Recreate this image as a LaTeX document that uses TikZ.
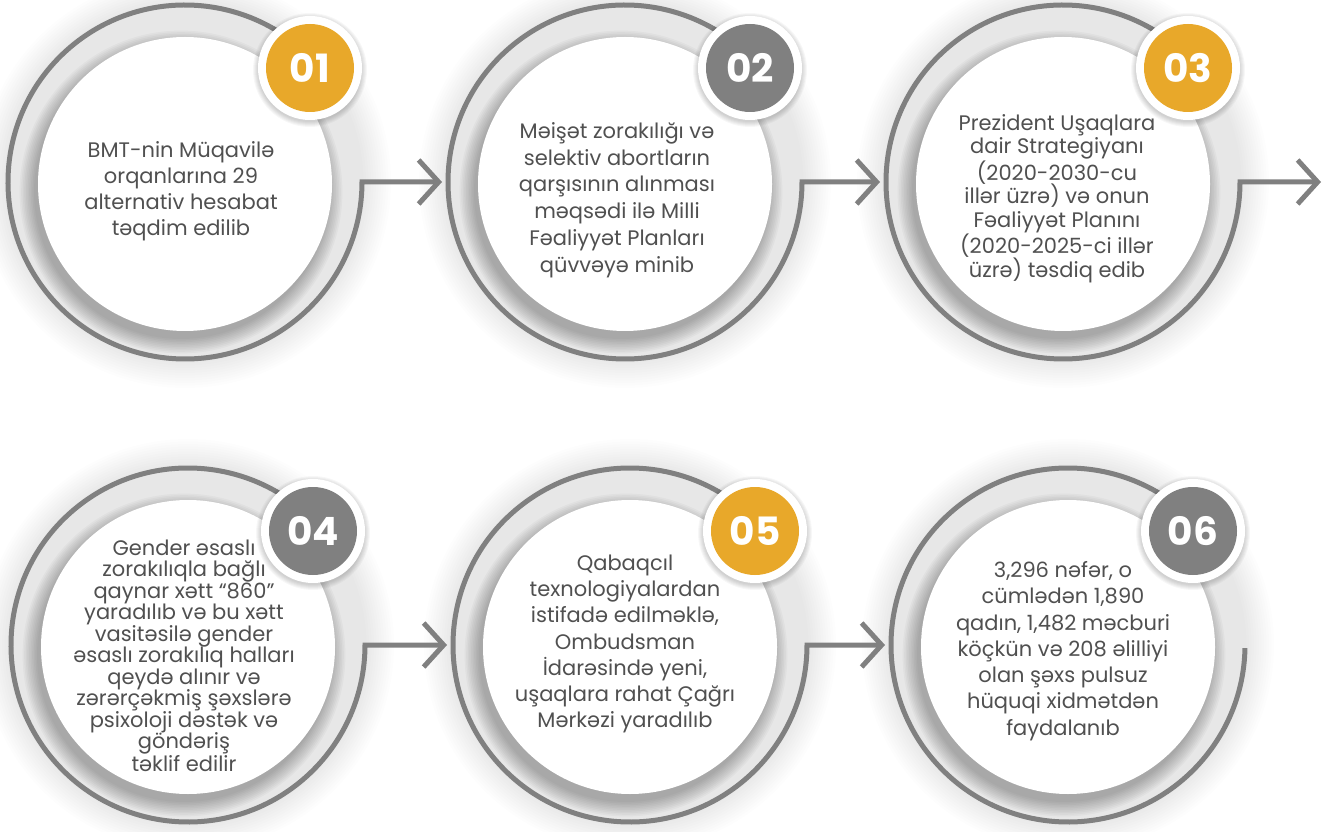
\documentclass[tikz,border=0pt]{standalone}
\usepackage{fontspec}
\setmainfont{Poppins}
\usetikzlibrary{arrows.meta}
\definecolor{ringgray}{HTML}{808080}
\definecolor{gold}{HTML}{E8A82A}
\definecolor{badgegray}{HTML}{808080}
\definecolor{txtgray}{HTML}{505050}
\tikzset{
  ringline/.style={draw=ringgray, line width=5pt},
  conn/.style={ringline, -{Straight Barb[length={20pt 0}, width={44pt 0}]}},
  ringnode/.style={circle, minimum size=354pt, inner sep=0pt, outer sep=0pt},
  disk/.style={circle, fill=white, minimum size=294pt, inner sep=0pt, outer sep=0pt},
  badgering/.style={circle, fill=white, minimum size=104pt, inner sep=0pt, outer sep=0pt},
  badge/.style={circle, minimum size=88pt, inner sep=0pt, outer sep=0pt, text=white,
    font=\fontsize{39}{39}\selectfont\bfseries},
  txt/.style={align=center, text=txtgray, inner sep=0pt},
}
\begin{document}
\begin{tikzpicture}[x=1pt,y=1pt]
\useasboundingbox (0,0) rectangle (1330,831);
% ring anchors
\node[ringnode] (r1) at (185,649) {};
\node[ringnode] (r2) at (625,649) {};
\node[ringnode] (r3) at (1063,649) {};
\node[ringnode] (r4) at (188,186) {};
\node[ringnode] (r5) at (630,186) {};
\node[ringnode] (r6) at (1068,186) {};
\coordinate (end3) at (1321,649);
% soft glow
\foreach \c in {r1,r2,r3,r4,r5,r6}{
  \foreach \k in {1,...,12}{
    \fill[black,opacity=0.008] (\c.center) circle[radius=176+2.5*\k];
  }
}
% rings and connectors
\draw[conn] (r1.40) arc[start angle=40, end angle=360, radius=177] -- ([xshift=-6pt]r2.west);
\draw[conn] (r2.40) arc[start angle=40, end angle=360, radius=177] -- ([xshift=-6pt]r3.west);
\draw[conn] (r3.40) arc[start angle=40, end angle=360, radius=177] -- (end3);
\draw[conn] (r4.40) arc[start angle=40, end angle=360, radius=177] -- ([xshift=-6pt]r5.west);
\draw[conn] (r5.40) arc[start angle=40, end angle=360, radius=177] -- ([xshift=-6pt]r6.west);
\draw[ringline] (r6.40) arc[start angle=40, end angle=359, radius=177];
% inner shadows
\foreach \c in {r1,r2,r3,r4,r5,r6}{
  \foreach \k in {0,...,9}{
    \fill[black,opacity=0.033] ([shift={(-4,-10)}]\c.center) circle[radius=147+1.6*\k];
  }
}
% inner disks
\node[disk] (d1) at ([yshift=-2pt]r1.center) {};
\node[disk] (d2) at ([yshift=-2pt]r2.center) {};
\node[disk] (d3) at ([yshift=-2pt]r3.center) {};
\node[disk] (d4) at ([yshift=-2pt]r4.center) {};
\node[disk] (d5) at ([yshift=-2pt]r5.center) {};
\node[disk] (d6) at ([yshift=-2pt]r6.center) {};
% texts
\node[txt, font=\fontsize{21}{26}\selectfont] (t1) at (181,640)
  {BMT-nin Müqavilə\\orqanlarına 29\\alternativ hesabat\\təqdim edilib};
\node[txt, font=\fontsize{21}{26.7}\selectfont] (t2) at (617,631)
  {Məişət zorakılığı və\\selektiv abortların\\qarşısının alınması\\məqsədi ilə Milli\\Fəaliyyət Planları\\qüvvəyə minib};
\node[txt, font=\fontsize{21}{23.8}\selectfont] (t3) at (1057,632.5)
  {Prezident Uşaqlara\\dair Strategiyanı\\(2020-2030-cu\\illər üzrə) və onun\\Fəaliyyət Planını\\(2020-2025-ci illər\\üzrə) təsdiq edib};
\node[txt, font=\fontsize{21}{21.5}\selectfont] (t4) at (184,175.5)
  {Gender əsaslı\\zorakılıqla bağlı\\qaynar xətt “860”\\yaradılıb və bu xətt\\vasitəsilə gender\\əsaslı zorakılıq halları\\qeydə alınır və\\zərərçəkmiş şəxslərə\\psixoloji dəstək və\\göndəriş\\təklif edilir};
\node[txt, font=\fontsize{21}{26.3}\selectfont] (t5) at (625,187)
  {Qabaqcıl\\texnologiyalardan\\istifadə edilməklə,\\Ombudsman\\İdarəsində yeni,\\uşaqlara rahat Çağrı\\Mərkəzi yaradılıb};
\node[txt, font=\fontsize{21}{26.3}\selectfont] (t6) at (1063,180)
  {3,296 nəfər, o\\cümlədən 1,890\\qadın, 1,482 məcburi\\köçkün və 208 əlilliyi\\olan şəxs pulsuz\\hüquqi xidmətdən\\faydalanıb};
% badges
\foreach \c in {r1,r2,r3,r4,r5,r6}{
  \foreach \k in {0,...,5}{
    \fill[black,opacity=0.03] ([shift={(125,112)}]\c.center) circle[radius=52+\k];
  }
}
\node[badgering] (bo1) at ([shift={(125,114)}]r1.center) {};
\node[badgering] (bo2) at ([shift={(125,114)}]r2.center) {};
\node[badgering] (bo3) at ([shift={(125,114)}]r3.center) {};
\node[badgering] (bo4) at ([shift={(125,114)}]r4.center) {};
\node[badgering] (bo5) at ([shift={(125,114)}]r5.center) {};
\node[badgering] (bo6) at ([shift={(125,114)}]r6.center) {};
\node[badge, fill=gold] (b1) at (bo1) {01};
\node[badge, fill=badgegray] (b2) at (bo2) {02};
\node[badge, fill=gold] (b3) at (bo3) {03};
\node[badge, fill=badgegray] (b4) at (bo4) {04};
\node[badge, fill=gold] (b5) at (bo5) {05};
\node[badge, fill=badgegray] (b6) at (bo6) {06};
\end{tikzpicture}
\end{document}
